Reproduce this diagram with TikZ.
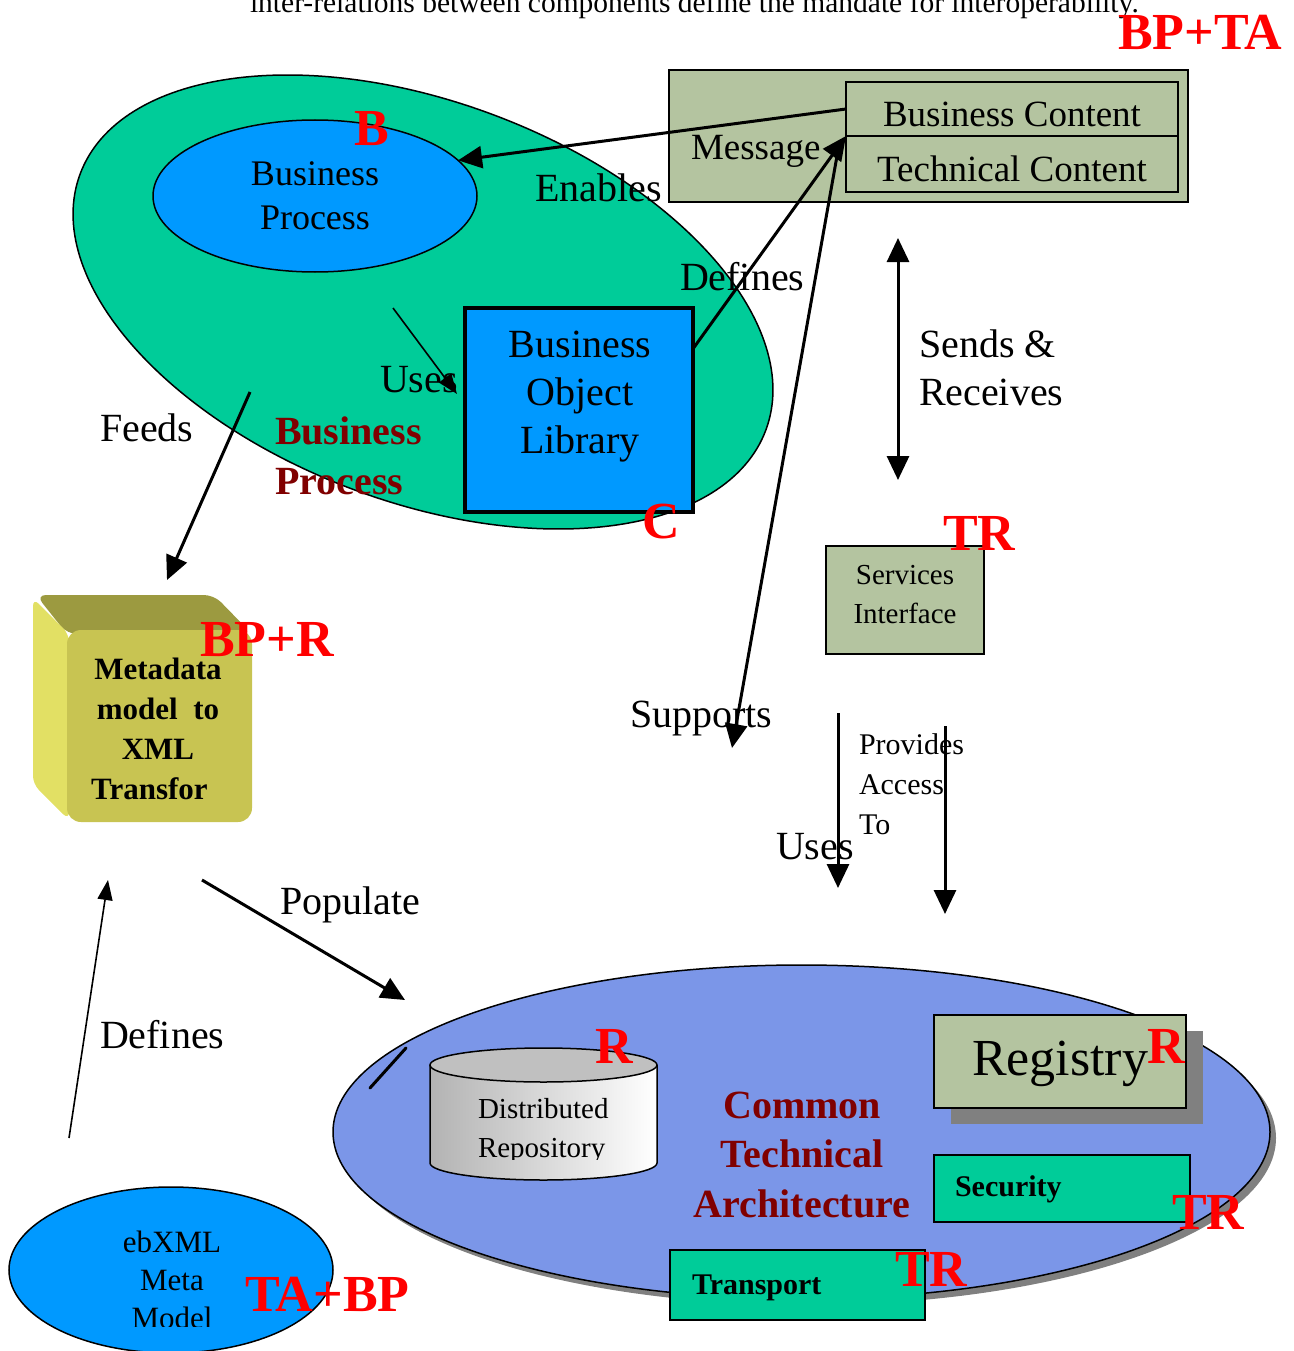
\documentclass[tikz,border=0pt]{standalone}
\usepackage{fontspec}
\setmainfont{Liberation Serif}
\usetikzlibrary{arrows.meta,shapes.geometric,shadows,calc}

\definecolor{bpgreen}{HTML}{00CC99}
\definecolor{bpblue}{HTML}{0099FF}
\definecolor{sage}{HTML}{B4C4A0}
\definecolor{ctablue}{HTML}{7B96E8}
\definecolor{darkred}{HTML}{800000}
\definecolor{shadowgray}{HTML}{808080}
\definecolor{yfront}{HTML}{C8C452}
\definecolor{yleft}{HTML}{E2E064}
\definecolor{ytop}{HTML}{9C9A40}
\definecolor{cylgray}{HTML}{C0C0C0}

\newcommand\fsz[2]{\fontsize{#1}{#2}\selectfont}

\tikzset{
  lbl/.style={font=\fsz{40}{48}},
  lblsm/.style={font=\fsz{30}{40}},
  tag/.style={text=red, font=\bfseries\fsz{52}{60}},
  thickarrow/.style={line width=3pt, -{Triangle[length=24pt,width=22pt]}},
  thinarrow/.style={line width=1.6pt, -{Triangle[length=20pt,width=15pt]}},
  outline/.style={draw, line width=1.5pt},
}

\begin{document}
\begin{tikzpicture}[x=1pt,y=-1pt, every node/.style={inner sep=0pt, outer sep=0pt}]
\useasboundingbox (0,0) rectangle (1293,1351);

% header
\node[font=\fsz{29.5}{34}, anchor=base west] (header) at (250,13)
  {inter-relations between components define the mandate for interoperability.};

% ---------- Business process area ----------
\node[ellipse, outline, fill=bpgreen, rotate=-20.5, minimum width=732pt, minimum height=400pt] (bpouter) at (423,302) {};
\node[ellipse, outline, fill=bpblue, minimum width=324pt, minimum height=152pt, align=center, font=\fsz{36}{44}] (bpinner) at (315,196) {Business\\Process};
\node[draw, line width=3.5pt, fill=bpblue, minimum width=228pt, minimum height=204pt] (bol) at (579,410) {};
\node[lbl, align=center, anchor=north] (boltext) at (580,331) {Business\\Object\\Library};
\node[anchor=north west, align=left, text=darkred, font=\bfseries\fsz{40}{50}] (bplabel) at (275,417) {Business\\Process};

% ---------- Message ----------
\node[outline, fill=sage, minimum width=519pt, minimum height=132pt] (msg) at (928.5,136) {};
\node[outline, minimum width=332pt, minimum height=54pt, font=\fsz{37}{44}, text height=36pt, text depth=0pt] (bcontent) at (1012,109) {Business Content};
\node[outline, minimum width=332pt, minimum height=56pt, font=\fsz{37}{44}, text height=36pt, text depth=0pt] (tcontent) at (1012,164) {Technical Content};
\node[font=\fsz{37}{44}, anchor=base west] (msglabel) at (691,160) {Message};

% ---------- Services interface ----------
\node[outline, fill=sage, minimum width=158pt, minimum height=108pt] (svc) at (905,600) {};
\node[font=\fsz{29}{39}, align=center, anchor=north] (svctext) at (905,565.5) {Services\\Interface};

% ---------- Metadata block ----------
\fill[ytop, rounded corners=10pt] (36,595) -- (214,595) -- (252,634) -- (67,634) -- cycle;
\fill[yleft, rounded corners=8pt] (33,598) -- (69,634) -- (69,820) -- (33,784) -- cycle;
\node[fill=yfront, rounded corners=14pt, minimum width=185pt, minimum height=192pt] (meta) at (159.5,726) {};
\node[font=\bfseries\fsz{31}{40}, align=center, anchor=north] (metatext) at (158,658) {Metadata\\model\ \ to\\XML\\Transfor\hphantom{n}};

% ---------- ebXML meta model ----------
\node[ellipse, outline, fill=bpblue, minimum width=324pt, minimum height=166pt] (ebxml) at (171,1270) {};
\begin{scope}
  \clip (0,1200) rectangle (340,1326);
  \node[font=\fsz{31}{38}, align=center, anchor=north] (ebtext) at (172,1231) {ebXML\\Meta\\Model};
\end{scope}

% ---------- Common technical architecture ----------
\node[ellipse, outline, fill=ctablue, minimum width=937pt, minimum height=334pt,
  drop shadow={shadow xshift=6pt, shadow yshift=-6pt, fill=shadowgray, opacity=1}] (cta) at (801.5,1132) {};
\coordinate (stubA) at (370,1088);
\coordinate (stubB) at (406,1048);
\draw[line width=3pt, line cap=round] (stubA) -- (stubB);

% repository cylinder
\fill[left color=gray!60, right color=white] (430,1065) -- (430,1163)
  arc[start angle=180, end angle=0, x radius=113.5, y radius=17] -- (657,1065) -- cycle;
\draw[line width=1.5pt] (430,1065) -- (430,1163)
  arc[start angle=180, end angle=0, x radius=113.5, y radius=17] -- (657,1065);
\node[ellipse, outline, fill=cylgray, minimum width=227pt, minimum height=34pt] (repo) at (543.5,1065) {};
\begin{scope}
  \clip (430,1090) rectangle (657,1159);
  \node[font=\fsz{29}{39}, align=left, anchor=north west] (repotext) at (478,1098) {Distributed\\Repository};
\end{scope}

\node[outline, fill=sage, minimum width=252pt, minimum height=93pt,
  drop shadow={shadow xshift=17pt, shadow yshift=-16pt, fill=shadowgray, opacity=1}] (registry) at (1060,1061.5) {};
\node[font=\fsz{52}{60}, anchor=base west] (regtext) at (972,1075) {Registry};

\node[anchor=north, align=center, text=darkred, font=\bfseries\fsz{40}{49.5}] (ctatext) at (802,1092) {Common\\Technical\\Architecture};

\node[outline, fill=bpgreen, minimum width=256pt, minimum height=67pt] (security) at (1062,1188.5) {};
\node[font=\bfseries\fsz{30}{36}, anchor=base west] (sectext) at (955,1196) {Security};
\node[outline, fill=bpgreen, minimum width=255pt, minimum height=70pt] (transport) at (797.5,1285) {};
\node[font=\bfseries\fsz{30}{36}, anchor=base west] (trtext) at (692,1294) {Transport};

% ---------- connector labels ----------
\node[lbl, anchor=base west] (lenables) at (535,201) {Enables};
\node[lbl, anchor=base west] (ldefines1) at (680,290) {Defines};
\node[lbl, anchor=base west] (luses1) at (380,392) {Uses};
\node[lbl, anchor=base west] (lfeeds) at (100,441) {Feeds};
\node[lbl, anchor=north west, align=left] (lsends) at (919,330) {Sends \&\\Receives};
\node[lbl, anchor=base west] (lsupports) at (630,727) {Supports};
\node[lblsm, anchor=north west, align=left] (lprovides) at (859,733.5) {Provides\\Access\\To};
\node[lbl, anchor=base west] (luses2) at (776,859) {Uses};
\node[lbl, anchor=base west] (lpopulate) at (280,914) {Populate};
\node[lbl, anchor=base west] (ldefines2) at (100,1048) {Defines};

% ---------- connectors ----------
\coordinate (supStart) at ($(tcontent.west)+(-9,-8)$);
\coordinate (supEnd) at (732,748);
\coordinate (srTop) at (898,238);
\coordinate (srBot) at (898,480);
\coordinate (uses2Start) at (838,713);
\coordinate (uses2End) at (838,888);
\coordinate (provStart) at (945,726);
\coordinate (provEnd) at (945,914);
\coordinate (uses1Start) at (393,308);
\coordinate (uses1End) at (457,394);
\coordinate (feedStart) at (250,392);
\coordinate (feedEnd) at (167,580);
\coordinate (popStart) at (202,880);
\coordinate (popEnd) at (405,1000);
\coordinate (def2Start) at (69,1138);
\coordinate (def2End) at (108,880);

\draw[thickarrow] (bcontent.west) -- (bpinner.14);
\draw[thickarrow] ($(bol.north east)!0.2!(bol.south east)$) -- (bcontent.south west);
\draw[thickarrow] (supStart) -- (supEnd);
\draw[line width=3pt, {Triangle[length=24pt,width=22pt]}-{Triangle[length=24pt,width=22pt]}] (srTop) -- (srBot);
\draw[thickarrow] (uses2Start) -- (uses2End);
\draw[thickarrow] (provStart) -- (provEnd);
\draw[thinarrow] (uses1Start) -- (uses1End);
\draw[thickarrow] (feedStart) -- (feedEnd);
\draw[thickarrow] (popStart) -- (popEnd);
\draw[thinarrow] (def2Start) -- (def2End);

% ---------- red tags ----------
\node[tag, anchor=base west] (tagBPTA) at (1118,50) {BP+TA};
\node[tag, anchor=base] (tagB) at (372,146) {B};
\node[tag, anchor=base] (tagC) at (661,538) {C};
\node[tag, anchor=base west] (tagTR1) at (943,550) {TR};
\node[tag, anchor=base west] (tagBPR) at (200,656) {BP+R};
\node[tag, anchor=base] (tagR1) at (614,1063) {R};
\node[tag, anchor=base] (tagR2) at (1166,1063) {R};
\node[tag, anchor=base west] (tagTR2) at (1172,1229) {TR};
\node[tag, anchor=base west] (tagTR3) at (895,1286) {TR};
\node[tag, anchor=base west] (tagTABP) at (245,1311) {TA+BP};
\end{tikzpicture}
\end{document}
